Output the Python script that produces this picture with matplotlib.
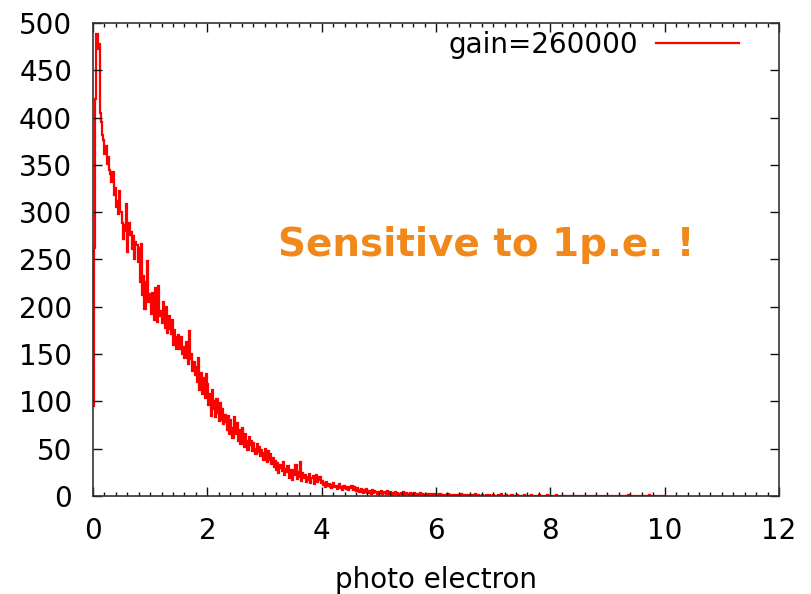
import numpy as np
import matplotlib
matplotlib.use("Agg")
import matplotlib.pyplot as plt
from matplotlib.ticker import MultipleLocator

# histogram counts, bin width 0.02 p.e. (25 bins per row)
bin_width = 0.02
counts = [
    95, 262, 420, 488, 472, 478, 405, 395, 382, 376, 362, 370, 351, 358, 345, 340, 332, 342, 318, 326, 306, 312, 298, 322, 300,
    289, 272, 286, 280, 309, 258, 289, 276, 279, 261, 275, 251, 268, 265, 247, 262, 226, 266, 212, 233, 198, 226, 248, 205, 213,
    210, 192, 215, 186, 220, 200, 184, 222, 190, 196, 183, 205, 188, 178, 200, 172, 190, 176, 171, 186, 160, 175, 168, 155, 170,
    162, 155, 168, 150, 158, 146, 163, 153, 140, 174, 145, 150, 132, 142, 128, 136, 120, 146, 112, 130, 108, 125, 117, 104, 129,
    118, 96, 108, 85, 112, 92, 100, 84, 103, 88, 79, 98, 80, 92, 76, 86, 78, 70, 85, 66, 80, 72, 61, 84, 70,
    65, 77, 58, 70, 55, 72, 60, 52, 66, 58, 49, 62, 54, 58, 48, 56, 50, 44, 55, 47, 52, 42, 49, 45, 38,
    50, 42, 36, 48, 38, 44, 34, 40, 31, 37, 28, 35, 24, 33, 30, 26, 36, 22, 29, 25, 32, 19, 28, 23, 17,
    27, 22, 33, 18, 25, 20, 36, 16, 24, 19, 22, 15, 20, 17, 23, 14, 19, 21, 13, 18, 22, 15, 17, 20, 14,
    16, 12, 14, 9, 15, 11, 13, 10, 8, 12, 14, 9, 11, 7, 10, 13, 8, 9, 6, 11, 8, 7, 10, 6, 9,
    8, 11, 6, 9, 7, 5, 8, 6, 4, 7, 5, 3, 6, 4, 7, 3, 5, 4, 2, 6, 3, 5, 4, 2, 3,
    4, 3, 5, 2, 4, 3, 2, 5, 3, 2, 4, 1, 3, 2, 4, 2, 3, 1, 2, 3, 2, 4, 1, 2, 3,
    2, 1, 3, 2, 1, 2, 3, 1, 2, 2, 1, 3, 1, 2, 1, 0, 2, 1, 2, 1, 0, 2, 1, 1, 2,
    1, 0, 1, 2, 0, 1, 0, 1, 1, 0, 2, 0, 1, 0, 0, 1, 0, 1, 0, 1, 0, 0, 2, 0, 1,
    0, 1, 0, 0, 1, 0, 1, 0, 0, 2, 0, 0, 1, 0, 0, 1, 0, 0, 0, 1, 0, 1, 0, 0, 0,
    1, 0, 0, 0, 1, 0, 0, 2, 0, 0, 0, 1, 0, 0, 0, 0, 1, 0, 0, 0, 0, 1, 0, 0, 0,
    0, 0, 1, 0, 0, 0, 0, 0, 1, 0, 0, 0, 0, 0, 0, 1, 0, 0, 0, 0, 0, 0, 1, 0, 0,
    0, 0, 0, 0, 0, 1, 0, 0, 0, 0, 0, 0, 0, 0, 0, 0, 0, 0, 0, 0, 0, 0, 0, 0, 0,
    0, 0, 0, 0, 0, 0, 0, 0, 0, 0, 0, 0, 0, 0, 0, 0, 0, 0, 0, 0, 0, 0, 0, 0, 0,
    0, 0, 0, 0, 0, 0, 0, 0, 0, 0, 0, 0, 0, 0, 0, 0, 0, 0, 1, 0, 0, 0, 0, 0, 0,
    0, 0, 0, 0, 0, 0, 0, 0, 0, 0, 0, 1, 0, 0, 0, 0, 0, 0, 0, 0, 0, 0, 0, 0, 0,
]
series_label = "gain=260000"
x_label = "photo electron"
note_text = "Sensitive to 1p.e. !"

plt.rcParams["font.family"] = ["DejaVu Sans"]

edges = np.arange(len(counts) + 1) * bin_width

fig = plt.figure(figsize=(8.11, 5.94), dpi=100)
ax = fig.add_axes([0.1147, 0.165, 0.8458, 0.7963])

ax.stairs(counts, edges, baseline=None, color="red", linewidth=1.6, label=series_label)

ax.set_xlim(0, 12)
ax.set_ylim(0, 500)
ax.xaxis.set_major_locator(MultipleLocator(2))
ax.xaxis.set_minor_locator(MultipleLocator(0.2))
ax.yaxis.set_major_locator(MultipleLocator(50))
ax.tick_params(which="both", direction="in", top=True, right=True,
               labelsize=20, pad=15, width=1.0, color="#111111")
ax.tick_params(which="major", length=6.5)
ax.tick_params(which="minor", length=3.2)
for s in ax.spines.values():
    s.set_linewidth(1.2)
    s.set_color("#333333")

ax.set_xlabel(x_label, fontsize=20, labelpad=15)

ax.legend(loc="center right", bbox_to_anchor=(0.942, 0.953), frameon=False,
          markerfirst=False, fontsize=20, handlelength=3.0, handletextpad=0.65,
          borderpad=0, borderaxespad=0)

ax.text(0.573, 0.531, note_text, transform=ax.transAxes, ha="center", va="center",
        fontsize=28, fontweight="bold", color="#F0891A")

fig.savefig("out.png", dpi=100)
